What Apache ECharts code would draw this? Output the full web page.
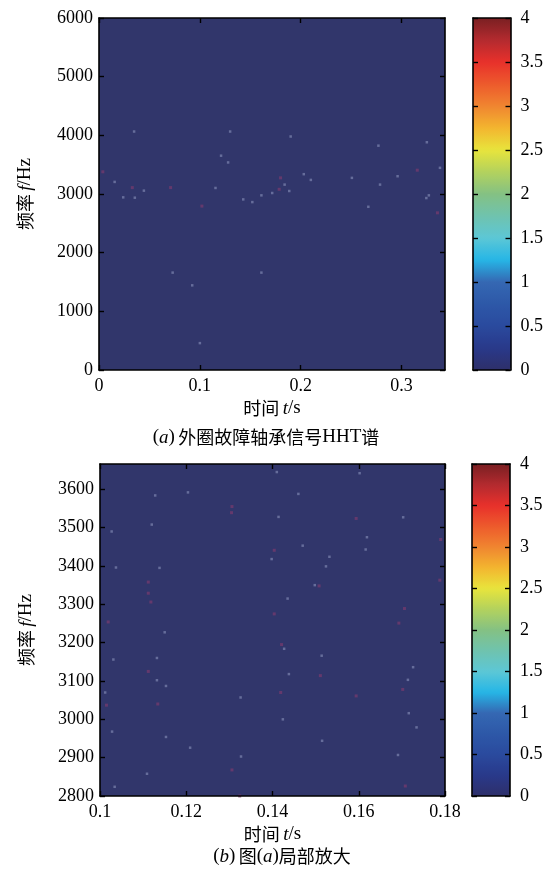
<!DOCTYPE html>
<html><head><meta charset="utf-8">
<script src="https://cdn.jsdelivr.net/npm/echarts@6/dist/echarts.min.js"></script>
<style>html,body{margin:0;padding:0;background:#fff}#c{width:546px;height:871px}</style>
</head><body><div id="c"></div>
<script>
// ---- data ----
var xTicksA = [0, 0.1, 0.2, 0.3];
var yTicksA = [0, 1000, 2000, 3000, 4000, 5000, 6000];
var xRangeA = [0, 0.343];
var yRangeA = [0, 6000];
var xTicksB = [0.1, 0.12, 0.14, 0.16, 0.18];
var yTicksB = [2800, 2900, 3000, 3100, 3200, 3300, 3400, 3500, 3600];
var xRangeB = [0.1, 0.18];
var yRangeB = [2800, 3666];
var cbarTicks = [0, 0.5, 1, 1.5, 2, 2.5, 3, 3.5, 4];
var cbarRange = [0, 4];
// sparse HHT points (t, f)
var dotsA_light = [[0.0348,4065],[0.130,4065],[0.121,3653],[0.128,3538],[0.0155,3206],[0.024,2943],[0.0355,2937],[0.0445,3057],[0.1155,3103],[0.143,2908],[0.152,2862],[0.161,2977],[0.1717,3017],[0.184,3160],[0.1886,3051],[0.203,3338],[0.210,3240],[0.2507,3275],[0.267,2782],[0.277,3824],[0.2786,3160],[0.296,3303],[0.325,3882],[0.3245,2931],[0.327,2977],[0.338,3446],[0.073,1660],[0.1,458],[0.161,1660],[0.0924,1443],[0.19,3980]];
var dotsA_red = [[0.0038,3378],[0.033,3109],[0.071,3109],[0.102,2794],[0.180,3275],[0.1786,3080],[0.3155,3406],[0.3355,2679]];
var dotsB_light = [[0.141,3645],[0.1602,3642],[0.1204,3592],[0.1128,3584],[0.1414,3528],[0.146,3588],[0.112,3508],[0.1027,3490],[0.1703,3527],[0.1619,3475],[0.1616,3443],[0.147,3453],[0.1398,3418],[0.1532,3424],[0.1524,3399],[0.1138,3395],[0.1037,3396],[0.1498,3350],[0.1435,3315],[0.115,3227],[0.1427,3184],[0.1031,3156],[0.1132,3160],[0.1514,3166],[0.1132,3102],[0.1438,3118],[0.1714,3103],[0.1726,3136],[0.1012,3070],[0.1153,3087],[0.1326,3057],[0.1424,3000],[0.1716,3016],[0.1734,2979],[0.1028,2968],[0.1153,2954],[0.1515,2944],[0.1209,2926],[0.1327,2903],[0.1691,2907],[0.1109,2858],[0.1034,2824]];
var dotsB_red = [[0.1306,3555],[0.1305,3539],[0.1594,3524],[0.1790,3469],[0.1404,3441],[0.1112,3358],[0.1112,3329],[0.1118,3306],[0.1508,3348],[0.1788,3363],[0.1706,3289],[0.1404,3275],[0.1019,3254],[0.1693,3251],[0.1421,3195],[0.1112,3125],[0.1511,3114],[0.1702,3078],[0.1419,3070],[0.1134,3040],[0.1594,3061],[0.1015,3037],[0.1306,2868],[0.1708,2826],[0.1324,2800]];

var jet = ['#2e2f6a','#29398a','#2a4a9e','#2d58a8','#3568b3','#26b6e6','#5cc7d6','#6fc3ae','#84c183','#b3d25d','#e8e43c','#f3b52f','#f08530','#ed5a2c','#e8302b','#b32a2f','#7a1f22'];

var SERIF = "'Liberation Serif','Times New Roman',serif";
var CJK = "'Noto Sans CJK SC','Noto Sans CJK JP',sans-serif";
var FS = 18;
var rich = {
  c: {fontFamily: CJK, fontSize: 18, color: '#000'},
  i: {fontFamily: SERIF, fontStyle: 'italic', fontSize: 19, color: '#000'},
  p: {fontFamily: SERIF, fontSize: 19, color: '#000'}
};

var grids = [
  {left: 99, top: 18, width: 346, height: 352, show: true, backgroundColor: '#31366b', borderWidth: 0},
  {left: 473, top: 18, width: 38, height: 352, show: false},
  {left: 100, top: 464, width: 345, height: 332, show: true, backgroundColor: '#31366b', borderWidth: 0},
  {left: 472, top: 464, width: 38, height: 332, show: false}
];

function lineStyle() { return {show: true, onZero: false, lineStyle: {color: '#000', width: 1.6}}; }
function tickStyle(vals) { return {show: true, inside: true, length: 5, customValues: vals, lineStyle: {color: '#000', width: 1.4}}; }
function fmt(v) { return String(v); }

var xAxes = [], yAxes = [];
function addPlotAxes(g, xr, yr, xt, yt, yname) {
  xAxes.push({gridIndex: g, type: 'value', position: 'bottom', min: xr[0], max: xr[1], z: 10,
    axisLine: lineStyle(), axisTick: tickStyle(xt), splitLine: {show: false},
    axisLabel: {customValues: xt, margin: 7, fontFamily: SERIF, fontSize: FS, color: '#000', formatter: fmt},
    name: '{c|时间} {i|t}{p|/s}', nameLocation: 'middle', nameGap: 29, nameTextStyle: {rich: rich}});
  xAxes.push({gridIndex: g, type: 'value', position: 'top', min: xr[0], max: xr[1], z: 10,
    axisLine: lineStyle(), axisTick: tickStyle(xt), axisLabel: {show: false}, splitLine: {show: false}});
  yAxes.push({gridIndex: g, type: 'value', position: 'left', min: yr[0], max: yr[1], z: 10,
    axisLine: lineStyle(), axisTick: tickStyle(yt), splitLine: {show: false},
    axisLabel: {customValues: yt, margin: 6, fontFamily: SERIF, fontSize: FS, color: '#000', formatter: fmt},
    name: yname, nameLocation: 'middle', nameGap: 64, nameRotate: 90, nameTextStyle: {rich: rich}});
  yAxes.push({gridIndex: g, type: 'value', position: 'right', min: yr[0], max: yr[1], z: 10,
    axisLine: lineStyle(), axisTick: tickStyle(yt), axisLabel: {show: false}, splitLine: {show: false}});
}
function addBarAxes(g) {
  xAxes.push({gridIndex: g, type: 'value', position: 'bottom', min: 0, max: 1, z: 10,
    axisLine: lineStyle(), axisTick: {show: false}, axisLabel: {show: false}, splitLine: {show: false}});
  xAxes.push({gridIndex: g, type: 'value', position: 'top', min: 0, max: 1, z: 10,
    axisLine: lineStyle(), axisTick: {show: false}, axisLabel: {show: false}, splitLine: {show: false}});
  yAxes.push({gridIndex: g, type: 'value', position: 'left', min: cbarRange[0], max: cbarRange[1], z: 10,
    axisLine: lineStyle(), axisTick: tickStyle(cbarTicks), axisLabel: {show: false}, splitLine: {show: false}});
  yAxes.push({gridIndex: g, type: 'value', position: 'right', min: cbarRange[0], max: cbarRange[1], z: 10,
    axisLine: lineStyle(), axisTick: tickStyle(cbarTicks), splitLine: {show: false},
    axisLabel: {customValues: cbarTicks, margin: 10, fontFamily: SERIF, fontSize: FS, color: '#000', formatter: fmt}});
}
var yname = '{c|频率} {i|f}{p|/Hz}';
addPlotAxes(0, xRangeA, yRangeA, xTicksA, yTicksA, yname);
addBarAxes(1);
addPlotAxes(2, xRangeB, yRangeB, xTicksB, yTicksB, yname);
addBarAxes(3);

function dots(data, xi, yi, color, op, size) {
  return {type: 'scatter', xAxisIndex: xi, yAxisIndex: yi, data: data, symbol: 'rect', symbolSize: size,
    itemStyle: {color: color, opacity: op}, silent: true, clip: true};
}

var option = {
  animation: false,
  backgroundColor: '#fff',
  grid: grids,
  xAxis: xAxes,
  yAxis: yAxes,
  visualMap: [
    {type: 'continuous', min: 0, max: 4, seriesIndex: [], show: true, calculable: false, left: 473, top: 18,
     itemWidth: 38, itemHeight: 352, padding: 0, text: null, inRange: {color: jet}, realtime: false},
    {type: 'continuous', min: 0, max: 4, seriesIndex: [], show: true, calculable: false, left: 472, top: 464,
     itemWidth: 38, itemHeight: 332, padding: 0, text: null, inRange: {color: jet}, realtime: false}
  ],
  series: [
    dots(dotsA_light, 0, 0, '#8a93ba', 0.6, 2.5),
    dots(dotsA_red, 0, 0, '#7a3a6e', 0.7, 3),
    dots(dotsB_light, 4, 4, '#8a93ba', 0.6, 2.5),
    dots(dotsB_red, 4, 4, '#7a3a6e', 0.7, 3)
  ],
  graphic: [
    {type: 'text', x: 266, y: 428, style: {text: '{p|(}{i|a}{p|)} {c|外圈故障轴承信号}{p|HHT}{c|谱}', rich: rich, align: 'center'}},
    {type: 'text', x: 282, y: 847, style: {text: '{p|(}{i|b}{p|)} {c|图}{p|(}{i|a}{p|)}{c|局部放大}', rich: rich, align: 'center'}}
  ]
};
var chart = echarts.init(document.getElementById('c'), null, {renderer: 'canvas'});
chart.setOption(option);
</script></body></html>
